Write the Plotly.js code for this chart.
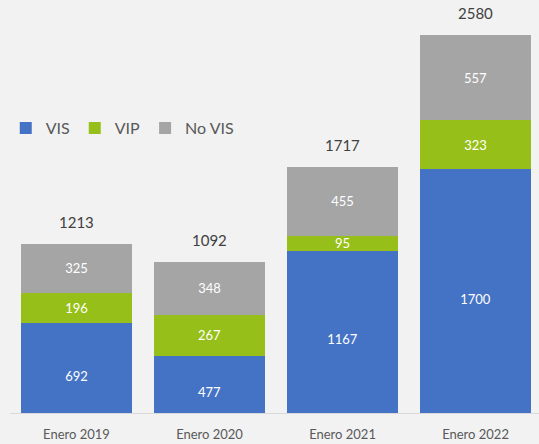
<!DOCTYPE html>
<html>
<head>
<meta charset="utf-8">
<script src="https://cdn.plot.ly/plotly-3.0.1.min.js"></script>
<style>html,body{margin:0;padding:0;background:#f2f2f2;}#chart{width:539px;height:444px;}</style>
</head>
<body>
<div id="chart"></div>
<script>
const categories = ["Enero 2019", "Enero 2020", "Enero 2021", "Enero 2022"];
const vis = [692, 477, 1167, 1700];
const vip = [196, 267, 95, 323];
const noVis = [325, 348, 455, 557];
const totals = [1213, 1092, 1717, 2580];

const font = "Lato, 'Open Sans', sans-serif";
function seg(name, vals, color) {
  return {
    type: "bar", name: name, x: categories, y: vals,
    marker: {color: color, line: {width: 0}},
    text: vals.map(String), textposition: "inside", insidetextanchor: "middle",
    textangle: 0, constraintext: "none",
    textfont: {color: "#ffffff", size: 13, family: font},
    hoverinfo: "skip"
  };
}
const data = [
  seg("VIS", vis, "#4472c4"),
  seg("VIP", vip, "#97bf19"),
  seg("No VIS", noVis, "#a5a5a5")
];
const annotations = categories.map((c, i) => ({
  x: c, y: totals[i], xref: "x", yref: "y", text: String(totals[i]),
  showarrow: false, yanchor: "bottom", yshift: 11,
  font: {size: 15, color: "#404040", family: font}
}));
const layout = {
  width: 539, height: 444,
  margin: {l: 10, r: 0, t: 2, b: 31},
  paper_bgcolor: "#f2f2f2", plot_bgcolor: "#f2f2f2",
  barmode: "stack", bargap: 0.165,
  showlegend: true,
  legend: {orientation: "h", x: -0.008, y: 0.693, xanchor: "left", yanchor: "middle",
           font: {size: 16, color: "#595959", family: font}, bgcolor: "rgba(0,0,0,0)",
           traceorder: "normal", itemwidth: 30},
  xaxis: {type: "category", range: [-0.5, 3.477], showgrid: false, zeroline: false,
          showline: true, linecolor: "#d9d9d9", linewidth: 1, ticks: "",
          ticklabelstandoff: 9,
          tickfont: {size: 13, color: "#595959", family: font}},
  yaxis: {range: [100, 2800], visible: false, showgrid: false, zeroline: false},
  annotations: annotations,
  font: {family: font}
};
Plotly.newPlot("chart", data, layout, {displayModeBar: false, staticPlot: true});
</script>
</body>
</html>
